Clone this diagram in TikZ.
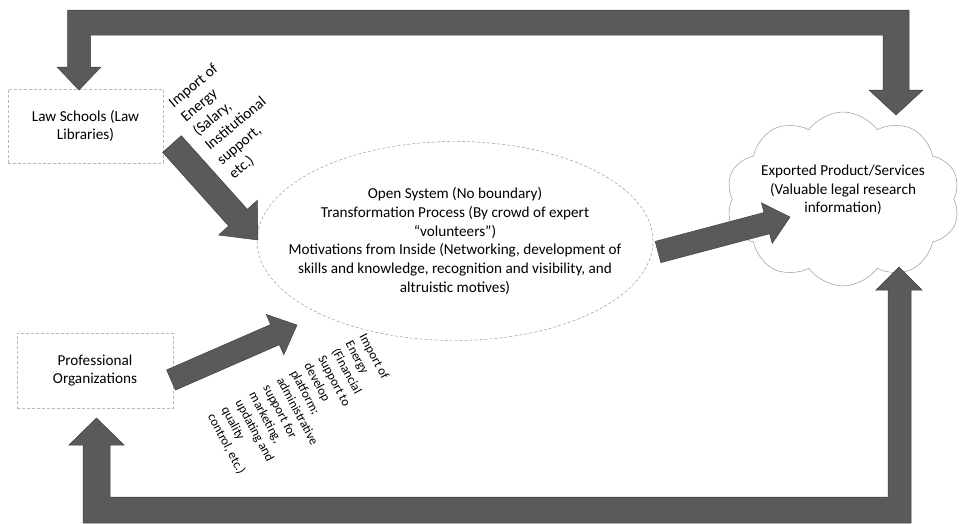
\documentclass[tikz,border=0pt]{standalone}
\usepackage{fontspec}
\setmainfont{Carlito}
\usetikzlibrary{shapes.geometric,shapes.symbols,calc}

\definecolor{arrowgray}{HTML}{5A5A5A}
\definecolor{arrowedge}{HTML}{404040}

% block arrow: tail, tip, half shaft, half head, head length
\newcommand{\fatarrow}[5]{%
  \coordinate (neck) at ($(#2)!#5!(#1)$);
  \draw[blockarrow] ($(#1)!#3!90:(#2)$) -- ($(neck)!#3!-90:(#1)$)
    -- ($(neck)!#4!-90:(#1)$) -- (#2) -- ($(neck)!#4!90:(#1)$)
    -- ($(neck)!#3!90:(#1)$) -- ($(#1)!#3!-90:(#2)$) -- cycle;}

\begin{document}
\begin{tikzpicture}[x=1pt, y=-1pt,
    every node/.style={font=\fontsize{15.2}{18.7}\selectfont},
    srcbox/.style={draw=gray!55, densely dashed, line width=0.4pt,
      minimum width=155pt, minimum height=74pt, align=center},
    blockarrow/.style={fill=arrowgray, draw=arrowedge, line width=0.5pt},
    note/.style={align=left, inner sep=0pt, anchor=north west}]
  \useasboundingbox (0,0) rectangle (960,523);

  \node[srcbox] (law) at (85.5,126) {Law Schools (Law\\Libraries)};
  \node[srcbox, minimum width=156pt, minimum height=75pt] (prof) at (95,370.5)
    {Professional\\Organizations};

  \node[ellipse, draw=gray!85, densely dashed, line width=0.45pt,
    minimum width=396pt, minimum height=199pt, inner sep=0pt] (sys) at (455,241) {};
  \node[align=center] (systext) at (sys) {Open System (No boundary)\\
    Transformation Process (By crowd of expert\\
    “volunteers”)\\
    Motivations from Inside (Networking, development of\\
    skills and knowledge, recognition and visibility, and\\
    altruistic motives)};

  \node[cloud, draw=gray!80, line width=0.5pt, cloud puffs=10, cloud puff arc=110,
    minimum width=234pt, minimum height=174pt] (out) at (843,199) {};
  \node[align=center] (outtext) at ($(out)+(0,-9)$)
    {Exported Product/Services\\(Valuable legal research\\information)};

  % feedback loops
  \draw[blockarrow] (67.5,10) -- (909,10) -- (909,90) -- (923,90) -- (896,115)
    -- (869,90) -- (883,90) -- (883,35) -- (90.5,35) -- (90.5,67) -- (101,67)
    -- (79,90) -- (57,67) -- (67.5,67) -- cycle;
  \draw[blockarrow] (83,523) -- (83,445) -- (69,445) -- (96.5,418) -- (124,445)
    -- (110,445) -- (110,497) -- (888,497) -- (888,290) -- (876,290) -- (899,267)
    -- (922,290) -- (911,290) -- (911,523) -- cycle;

  % imports and export
  \coordinate (lawtail) at (172,144);
  \coordinate (lawtip) at (258,240);
  \coordinate (proftail) at (171,380);
  \coordinate (proftip) at (297,325);
  \coordinate (systail) at (658,252);
  \coordinate (systip) at (790,217);
  \fatarrow{lawtail}{lawtip}{12.5pt}{26pt}{30pt}
  \fatarrow{proftail}{proftip}{11pt}{22pt}{24pt}
  \fatarrow{systail}{systip}{11pt}{21pt}{24pt}

  \node[note, rotate=40] (impA) at (167,100)
    {Import of\\Energy\\(Salary,\\Institutional\\support,\\etc.)};
  \node[note, rotate=-62, font=\fontsize{12.8}{15.6}\selectfont] (impB) at (367,332)
    {Import of\\Energy\\(Financial\\Support to\\develop\\platform;\\administrative\\support for\\marketing,\\updating and\\quality\\control, etc.)};
\end{tikzpicture}
\end{document}
